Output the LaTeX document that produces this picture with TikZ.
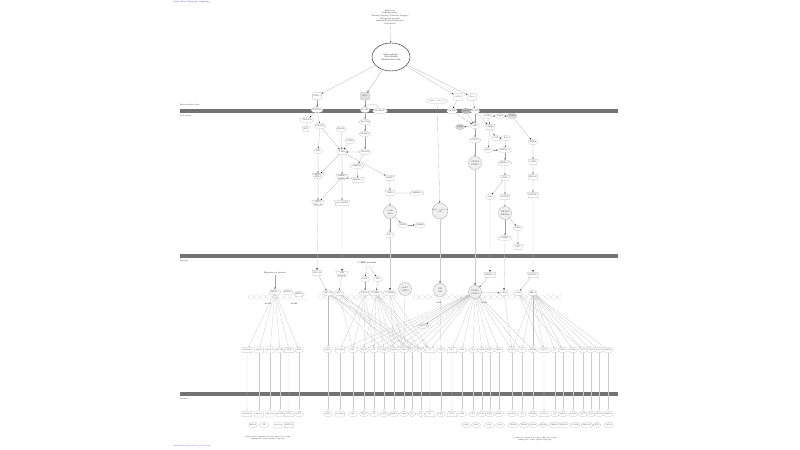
\documentclass[tikz,border=0pt]{standalone}
\usepackage{tikz}
\usetikzlibrary{arrows,shapes.geometric,positioning}
\newcommand{\pwf}{\fontsize{6}{7.5}\selectfont}
\newcommand{\smf}{\fontsize{5}{6}\selectfont}

\begin{document}
\begin{tikzpicture}[x=1mm,y=-1mm,>=latex,font=\pwf]
  \tikzstyle{mol}=[draw=gray!65,fill=white,ellipse,inner sep=0.3pt,minimum width=9mm,minimum height=5.5mm,align=center,text=black!80]
  \tikzstyle{lig}=[draw=gray!65,fill=white,rectangle,rounded corners=0.6mm,inner sep=1pt,minimum width=9mm,minimum height=7mm,align=center,text=black!80]
  \tikzstyle{kin}=[draw=gray!65,fill=white,trapezium,shape border rotate=180,trapezium angle=62,trapezium stretches=true,inner sep=0.3pt,minimum width=9.5mm,minimum height=5.5mm,align=center,text=black!80]
  \tikzstyle{dia}=[draw=gray!65,fill=white,diamond,aspect=1.6,inner sep=0pt,minimum width=8.5mm,minimum height=6mm,font=\smf,text=black!80]
  \tikzstyle{trp}=[draw=gray!65,fill=white,trapezium,trapezium angle=70,trapezium stretches=true,inner sep=0.3pt,minimum width=9.5mm,minimum height=5.5mm,font=\smf,text=black!80]
  \tikzstyle{pro}=[mol,minimum width=9mm,font=\smf]
  \tikzstyle{box}=[lig,minimum width=8.5mm,minimum height=6mm,font=\smf]
  \tikzstyle{kpr}=[kin,minimum width=9.5mm,font=\smf]
  \tikzstyle{cpx}=[draw=gray!55,line width=1.3pt,fill=gray!12,circle,inner sep=0pt,minimum size=13mm,align=center,text=black!80]
  \tikzstyle{lnk}=[draw=gray!75,line width=0.45pt]
  \tikzstyle{fan}=[draw=gray!55,line width=0.45pt]
  \tikzstyle{sec}=[draw=gray!40,line width=0.9pt]
  \tikzstyle{mem}=[line width=3.2mm,black!55]
  \tikzstyle{cmp}=[anchor=west,inner sep=0pt,font=\smf]
  \tikzstyle{dna}=[gray!35,line width=0.5pt]

  \useasboundingbox (0,0) rectangle (800,450);

  % compartments
  \draw[mem] (180,111) -- (618,111);
  \draw[mem] (180,256) -- (618,256);
  \draw[mem] (180,394) -- (618,394);
  \node[cmp] (ecs) at (180,105) {Extracellular Space};
  \node[cmp] (cyt) at (180,116) {Cytoplasm};
  \node[cmp] (nuc) at (180,261) {Nucleus};
  \node[cmp] (pla) at (180,399) {Plasma};
  \node[cmp,text=blue!85,font=\pwf] (ttl) at (173,2) {Acute Phase Response Signaling};
  \node[cmp,text=blue!85] (cpy) at (173,446) {\copyright\ 2000-2013 Ingenuity Systems, Inc.};

  % DNA
  \foreach \a/\b in {248/306,318/396,413/562} {
    \draw[dna,domain=\a:\b,samples=90] plot (\x,{297+2.5*sin(30*(\x-\a))});
    \draw[dna,domain=\a:\b,samples=90] plot (\x,{297-2.5*sin(30*(\x-\a))});
  }
  \node[font=\smf] (re1) at (268,304) {APRE};
  \node[font=\smf] (re2) at (294,304) {APRE};
  \node[font=\smf] (re3) at (439,303) {GRE};
  \node[font=\smf] (re4) at (484,303) {APRE};

  % stimulus and source cells
  \node[align=center,text=black!85] (stim) at (390,17) {Infection\\Inflammation\\Trauma/Injury/Vascular Surgery\\Malignant growth\\Immunological disorders\\Oxidation};
  \node[draw=black,line width=1pt,ellipse,minimum width=38mm,minimum height=28mm,align=center] (src) at (391,57) {Macrophages\\Fibroblasts\\Endothelial cells};

  % ligands and receptors
  \node[lig] (tnf) at (317,96) {TNF-$\alpha$};
  \node[lig,fill=gray!25] (ilo) at (365,96) {IL-1};
  \node[lig] (osm) at (458,97) {OSM};
  \node[lig] (ils) at (472,97) {IL-6};
  \node[mol,minimum width=14mm,font=\smf] (gc) at (437,101) {Glucocorticoid};
  \node[mol] (tnfr) at (317,110) {TNFR1};
  \node[mol] (ilr) at (365,110) {IL-1R};
  \node[mol,minimum width=7mm] (ilrp) at (380,111) {IL-1RAP};
  \node[mol] (osmr) at (452,111) {OSMR};
  \node[mol,fill=gray!55] (gp) at (466,111) {gp130};
  \node[mol] (ilsr) at (475,111) {IL-6R};
  \node[mol] (jka) at (488,116) {JAK1};
  \node[mol] (jkb) at (500,116) {JAK2};
  \node[mol,fill=gray!25] (tyk) at (512,116) {TYK2};

  % cytoplasm, TNF and IL-1 branch
  \node[mol] (tradd) at (307,120) {TRADD};
  \node[mol] (traf) at (320,126) {TRAF2};
  \node[kin,minimum width=7mm] (rip) at (306,129) {RIP};
  \node[mol] (irak) at (341,129) {IRAK};
  \node[mol] (tab) at (350,141) {TAB1};
  \node[mol] (myd) at (365,122) {MyD88};
  \node[mol] (irk) at (365,134) {IRAK1};
  \node[mol] (nik) at (318,151) {NIK};
  \node[kin] (tak) at (342,152) {TAK1};
  \node[mol] (trf) at (365,152) {TRAF6};
  \node[mol] (mekk) at (357,166) {MEKK1};
  \node[kin] (mkf) at (358,180) {MKK4/7};
  \node[kin] (ikk) at (318,176) {IKK$\alpha$\\IKK$\beta$};
  \node[kin] (mkt) at (342,177) {MKK3\\MKK6};
  \node[kin] (ikb) at (318,203) {I$\kappa$B$\alpha$\\NF-$\kappa$B};
  \node[kin] (pmk) at (342,203) {p38 MAPK};
  \node[kin] (mks) at (390,178) {MKK7};
  \node[kin] (jnk) at (390,193) {JNK1};
  \node[mol] (jip) at (417,193) {MEKK4};
  \node[cpx] (apc) at (390,212) {c-Jun\\c-Fos};
  \node[mol] (atf) at (403,225) {ATF2};
  \node[mol] (pp) at (420,225) {CREB};
  \node[mol] (apn) at (390,235) {AP-1};
  \node[cpx,minimum size=15mm,font=\smf] (grc) at (440,211) {Glucocorticoid\\GR};

  % cytoplasm, IL-6 and OSM branch
  \node[mol,fill=gray!30] (pik) at (460,127) {PI3K};
  \node[mol] (shc) at (475,126) {SHC};
  \node[kin] (grb) at (490,127) {GRB2};
  \node[mol] (sta) at (475,140) {STAT3};
  \node[cpx] (std) at (475,163) {STAT3\\STAT3};
  \node[mol] (sos) at (496,138) {SOS};
  \node[mol] (ras) at (506,138) {Ras};
  \node[mol] (raf) at (488,150) {Raf1};
  \node[mol] (mek) at (505,150) {MEK1/2};
  \node[mol] (erk) at (505,163) {ERK1/2};
  \node[kin] (rsk) at (505,178) {RSK};
  \node[mol] (akt) at (490,197) {Akt};
  \node[kin] (mpk) at (505,197) {MAPK};
  \node[cpx] (nfc) at (505,213) {NF-IL6\\NF-IL6};
  \node[mol] (nfp) at (518,228) {PKA};
  \node[kin] (ntr) at (518,247) {PKC};
  \node[mol] (nfl) at (505,238) {C/EBP$\beta$};
  \node[mol] (shp) at (533,142) {SHP2};
  \node[kin] (gab) at (533,162) {GAB1};
  \node[lig,minimum width=9mm,minimum height=5.5mm] (hras) at (533,177) {HRAS};
  \node[kin] (mapk) at (533,195) {MAPK1};

  % nucleus
  \node[align=center] (lsf) at (275,273) {Hepatocyte factors};
  \node[mol] (hnf) at (275,292) {HNF1$\alpha$};
  \node[mol] (hnt) at (288,292) {HNF3};
  \node[mol] (hnv) at (299,294) {HNF4};
  \node[kin] (nfn) at (317,273) {NF-$\kappa$B};
  \node[kin] (pnn) at (342,274) {p38\\MAPK};
  \node[mol] (nkb) at (328,293) {NF-$\kappa$B};
  \node[mol] (ap) at (339,293) {AP-1};
  \node[align=center] (cst) at (367,263) {C/EBP isoforms};
  \node[mol] (lap) at (365,279) {LAP};
  \node[mol] (lip) at (378,279) {LIP};
  \node[mol] (nfi) at (365,293) {NF-IL6};
  \node[mol] (ceb) at (376,293) {C/EBP$\beta$};
  \node[mol] (ced) at (390,293) {C/EBP$\delta$};
  \node[cpx] (saf) at (405,289) {SAF-1\\SAF-2};
  \node[cpx] (grn) at (440,290) {GR\\GR};
  \node[kin] (ekn) at (490,275) {ERK1/2};
  \node[cpx] (stn) at (475,292) {STAT3\\STAT3};
  \node[mol] (fos) at (504,293) {c-Fos};
  \node[kin] (mkn) at (533,275) {MAPK1};
  \node[mol] (jun) at (518,293) {c-Jun};
  \node[mol] (elk) at (533,293) {Elk-1};
  \node[mol] (soc) at (423,326) {SOCS3};

  % acute phase genes and plasma proteins
  \foreach \i/\x/\t/\s in {1/247/Albumin/kpr,2/259/AHSG/box,3/270/APOA1/box,4/280/APOH/pro,5/289/TTR/trp,6/299/AGT/pro,
      7/328/PAI1/pro,8/340/IL1RN/box,9/353/HP/pro,10/364/HPX/pro,11/374/CP/pro,12/384/CFB/pro,13/394/ORM1/pro,
      14/404/A2M/pro,15/412/C3/dia,16/421/C4/dia,17/430/C5/trp,18/441/LBP/pro,19/452/FTL/trp,20/462/CRP/pro,
      21/473/SAA/pro,22/482/FGA/pro,23/490/FGG/pro,24/499/MBL/pro,25/512/A1AT/pro,26/522/C9/pro,27/533/ITIH4/pro,
      28/544/KNG/trp,29/555/F2/pro,30/563/HRG/pro,31/573/SOD2/pro,32/583/ACT/pro,33/591/PLG/pro,34/599/APCS/pro,35/608/AMBP/pro} {
    \node[\s] (g\i) at (\x,350) {\t};
    \node[\s] (p\i) at (\x,414) {\t};
    \draw[sec,->] (g\i) -- (p\i);
  }
  \foreach \i/\x/\t/\s in {1/253/RBP4/pro,2/264/TF/pro,3/278/APOA2/box,4/289/FETUB/trp,
      5/466/FGB/pro,6/476/C1R/pro,7/489/C1S/pro,8/500/C4B/pro,9/513/ITIH2/pro,10/524/ITIH3/pro,11/533/SAA2/pro,
      12/543/SAA4/dia,13/555/SERPF2/pro,14/564/SERPD1/pro,15/575/C1INH/pro,16/587/HMOX1/pro,17/597/FN1/dia,18/609/LRG1/pro} {
    \node[\s] (r\i) at (\x,425) {\t};
  }
  \node[align=center,font=\smf] (neg) at (268,438) {Negatively regulated acute phase proteins\\during the acute phase response};
  \node[align=center,font=\smf] (pos) at (535,439) {Positively regulated acute phase proteins\\during the acute phase response};

  % signalling
  \path[lnk,->]
  (stim) edge (src)
  (src)  edge (tnf) edge (ilo) edge (osm) edge (ils)
  (tnf)  edge (tnfr)
  (tnfr) edge (tradd) edge (traf)
  (traf) edge (nik) edge (tak)
  (nik)  edge (ikk)
  (tak)  edge (ikk) edge (mkt) edge (mks)
  (irak) edge (tak)
  (tab)  edge (tak)
  (trf)  edge (tak) edge (mekk)
  (ikk)  edge (ikb)
  (mkt)  edge (pmk) edge (ikb)
  (mekk) edge (mkf)
  (mkf)  edge (mkt)
  (ilo)  edge (ilr)
  (ilr)  edge (myd)
  (myd)  edge (irk)
  (irk)  edge (trf)
  (mks)  edge (jnk)
  (jnk)  edge (apc)
  (apc)  edge (atf) edge (apn)
  (atf)  edge (pp)
  (gc)   edge (grc)
  (osm)  edge (osmr)
  (ils)  edge (ilsr)
  (osmr) edge (shc)
  (gp)   edge (shc)
  (ilsr) edge (shc) edge (grb)
  (jka)  edge (jkb) edge (grb)
  (jkb)  edge (tyk)
  (shc)  edge (pik) edge (sta)
  (grb)  edge (raf) edge (sos)
  (sta)  edge (std)
  (sos)  edge (ras)
  (ras)  edge (mek)
  (raf)  edge (mek)
  (mek)  edge (erk)
  (erk)  edge (rsk)
  (rsk)  edge (akt) edge (mpk)
  (mpk)  edge (nfc)
  (nfc)  edge (nfp) edge (nfl)
  (nfp)  edge (ntr)
  (tyk)  edge (shp)
  (shp)  edge (gab)
  (gab)  edge (hras)
  (hras) edge (mapk)
  (lsf)  edge (hnf)
  (nfn)  edge (nkb)
  (pnn)  edge (ap)
  (cst)  edge (lap) edge (lip)
  (lap)  edge (nfi)
  (lip)  edge (ceb)
  (ekn)  edge (stn)
  (mkn)  edge (jun)
  (stn)  edge (fos) edge (soc);
  \path[sec,->]
  (ikb)  edge (nfn)
  (pmk)  edge (pnn)
  (apn)  edge (ced)
  (grc)  edge (grn)
  (std)  edge (stn)
  (akt)  edge (ekn)
  (nfl)  edge (fos)
  (mapk) edge (mkn);
  \path[lnk] (tradd) edge (rip) (jnk) edge (jip) (ilr) edge[bend left=70] (ilrp);

  % transcription
  \foreach \j in {1,...,6} \draw[fan,->] (hnf) -- (g\j);
  \foreach \j in {7,12,14,15,16} \draw[fan,->] (nkb) -- (g\j);
  \foreach \j in {9,13,15,16} \draw[fan,->] (ap) -- (g\j);
  \foreach \j in {8,9,10,11} \draw[fan,->] (nfi) -- (g\j);
  \foreach \j in {10,...,17} \draw[fan,->] (ceb) -- (g\j);
  \foreach \j in {13,14,17} \draw[fan,->] (ced) -- (g\j);
  \draw[fan,->] (saf) -- (g14);
  \draw[fan,->] (grn) -- (g18);
  \foreach \j in {8,...,17,19,20,21,22,23,24,25,26,27} \draw[fan,->] (stn) -- (g\j);
  \foreach \j in {25,...,35} \draw[fan,->] (elk) -- (g\j);
  \foreach \j in {28,30,32} \draw[fan,->] (jun) -- (g\j);
  \draw[fan,->] (fos) -- (g25);
\end{tikzpicture}
\end{document}
